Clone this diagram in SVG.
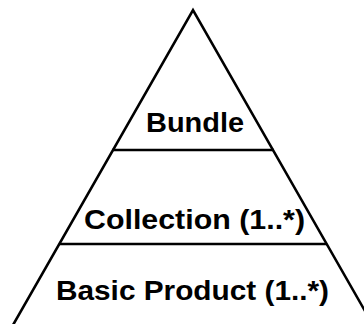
<svg xmlns="http://www.w3.org/2000/svg" width="364" height="324" viewBox="0 0 364 324">
<style>
.edge{fill:none;stroke:#000;stroke-width:2.6;stroke-linejoin:miter}
.lbl{font-family:"Liberation Sans",Arial,sans-serif;font-weight:bold;font-size:28px;fill:#000}
</style>
<rect width="364" height="324" fill="#fff"/>
<g id="connectors">
<path class="edge" d="M13,325 L193,10 L373,325"/>
<line class="edge" x1="112" y1="150" x2="274" y2="150"/>
<line class="edge" x1="59" y1="244" x2="327" y2="244"/>
</g>
<g id="bundle"><text class="lbl" x="146" y="131.5" textLength="98" lengthAdjust="spacingAndGlyphs">Bundle</text></g>
<g id="collection"><text class="lbl" x="84" y="228.5" textLength="221" lengthAdjust="spacingAndGlyphs">Collection (1..*)</text></g>
<g id="basic-product"><text class="lbl" x="56" y="300" textLength="273" lengthAdjust="spacingAndGlyphs">Basic Product (1..*)</text></g>
</svg>
